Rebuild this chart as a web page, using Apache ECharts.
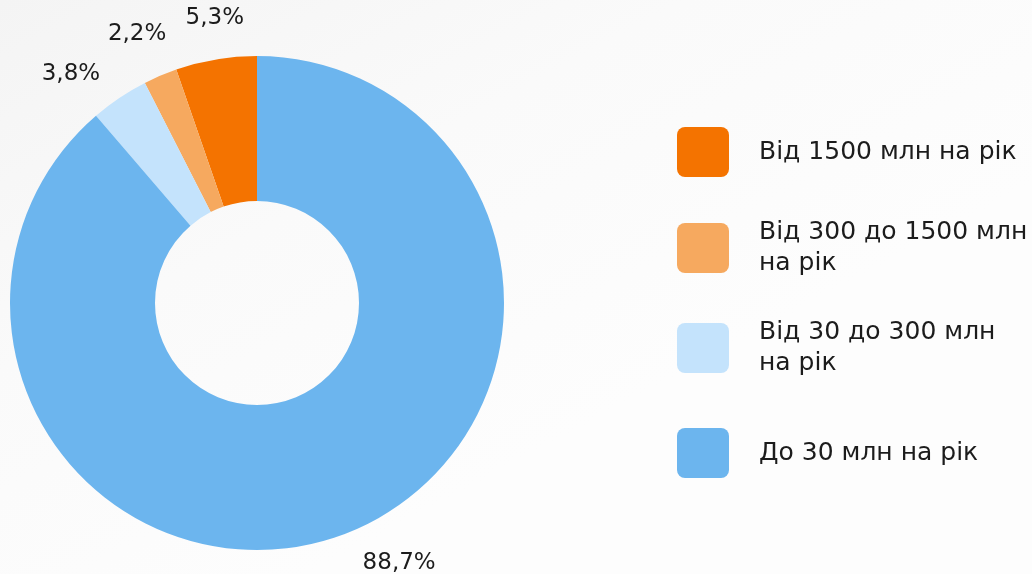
<!DOCTYPE html>
<html lang="uk">
<head>
    <meta charset="UTF-8">
    <title>Розподіл за доходом</title>
    <style>
        html, body { margin: 0; padding: 0; }
        #main { width: 1032px; height: 574px; }
    </style>
</head>
<body>
<div id="main"></div>
<script src="https://cdn.jsdelivr.net/npm/echarts@6/dist/echarts.min.js"></script>
<script>
    // дані з діаграми
    var categories = ['Від 1500 млн на рік', 'Від 300 до 1500 млн\nна рік', 'Від 30 до 300 млн\nна рік', 'До 30 млн на рік'];
    var shares = [5.3, 2.2, 3.8, 88.7];
    var colors = ['#f47300', '#f6a95f', '#c4e3fc', '#6cb5ee'];

    var font = '"DejaVu Sans", Inter, sans-serif';
    var iconPath = 'path://M8,0H44A8,8,0,0,1,52,8V42A8,8,0,0,1,44,50H8A8,8,0,0,1,0,42V8A8,8,0,0,1,8,0Z';

    // зсув підписів від середини сектора (як в оригіналі)
    var labelOffsets = [[6, 2], [-6, -1], [-24, 13], [41, -13]];

    var pieData = [];
    for (var i = 0; i < categories.length; i++) {
        pieData.push({name: categories[i], value: shares[i], itemStyle: {color: colors[i]}});
    }
    var labelData = pieData.map(function (d, i) {
        return {name: d.name, value: d.value, label: {offset: labelOffsets[i]}};
    });

    // одна легенда на кожен пункт, щоб повторити відступи
    var legendTops = [127, 217, 317, 428];
    var legends = categories.map(function (name, i) {
        return {
            data: [name],
            orient: 'vertical',
            left: 677,
            top: legendTops[i],
            padding: 0,
            itemWidth: 52,
            itemHeight: 50,
            icon: iconPath,
            selectedMode: false,
            textStyle: {
                fontFamily: font,
                fontSize: 25,
                color: '#1c1c1c',
                lineHeight: 31,
                padding: [0, 0, 0, 25]
            }
        };
    });

    var myChart = echarts.init(document.getElementById('main'));
    var option = {
        backgroundColor: {
            type: 'linear', x: 0, y: 0, x2: 0.3, y2: 1,
            colorStops: [{offset: 0, color: '#f4f4f4'}, {offset: 0.5, color: '#fafafa'}, {offset: 1, color: '#fdfdfd'}]
        },
        animation: false,
        legend: legends,
        series: [
            {
                type: 'pie',
                center: [257, 303],
                radius: [102, 247],
                clockwise: false,
                startAngle: 90,
                silent: true,
                label: {show: false},
                labelLine: {show: false},
                data: pieData
            },
            {
                // прозоре кільце лише для підписів
                type: 'pie',
                center: [257, 303],
                radius: [266, 310],
                clockwise: false,
                startAngle: 90,
                silent: true,
                itemStyle: {color: 'rgba(0,0,0,0)'},
                label: {
                    show: true,
                    position: 'inside',
                    fontFamily: font,
                    fontSize: 23,
                    color: '#1c1c1c',
                    formatter: function (p) {
                        return p.value.toFixed(1).replace('.', ',') + '%';
                    }
                },
                labelLine: {show: false},
                data: labelData
            }
        ]
    };
    myChart.setOption(option);
</script>
</body>
</html>
